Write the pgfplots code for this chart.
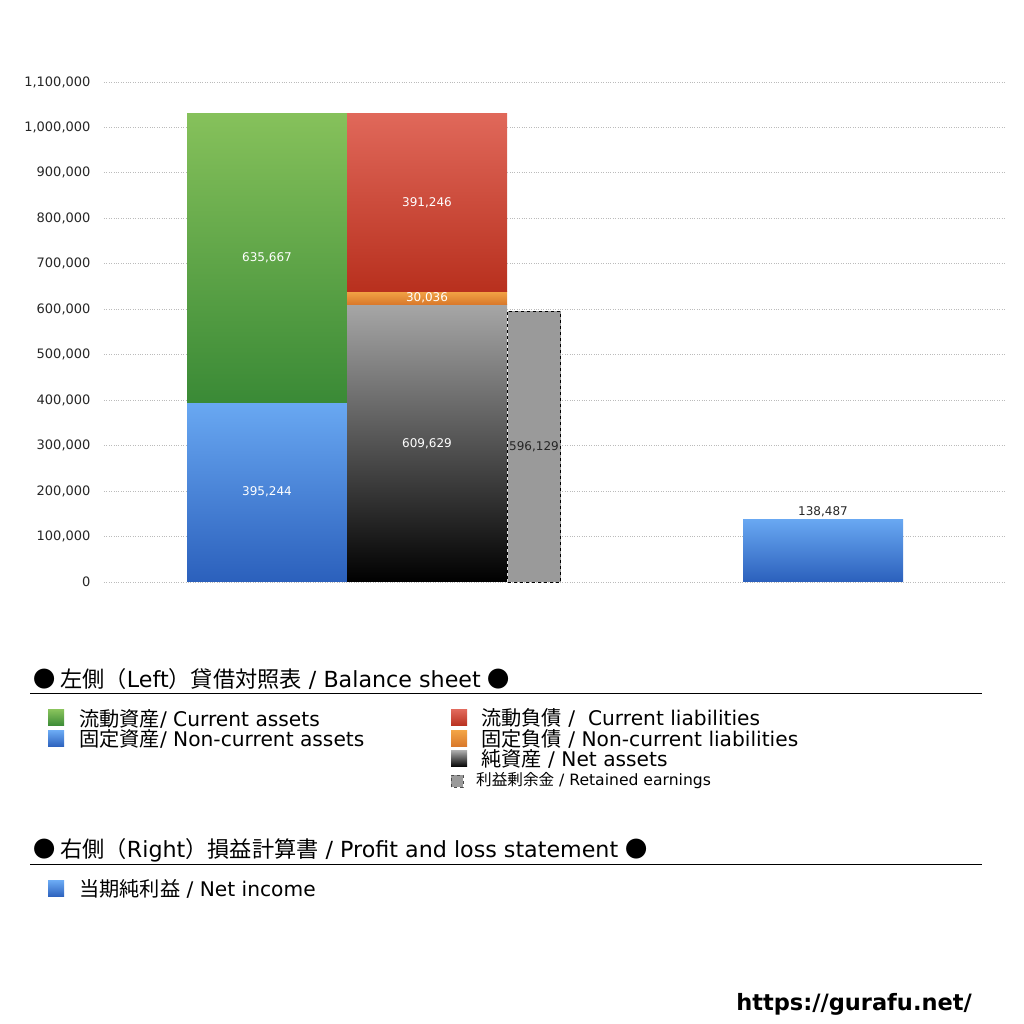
\documentclass[border=0pt]{standalone}
\usepackage{pgfplots}
\pgfplotsset{compat=1.18}
\usepackage{fontspec}
\setmainfont{DejaVu Sans}
\newfontfamily\jp{Noto Sans CJK JP}[Scale=1.0]

\definecolor{gTop}{HTML}{86C15B}
\definecolor{gBot}{HTML}{3A8A36}
\definecolor{bTop}{HTML}{69A8F2}
\definecolor{bBot}{HTML}{2B60BC}
\definecolor{rTop}{HTML}{E0685A}
\definecolor{rBot}{HTML}{B8301E}
\definecolor{oTop}{HTML}{F2A345}
\definecolor{oBot}{HTML}{D8772A}
\definecolor{kTop}{HTML}{A6A6A6}
\definecolor{kBot}{HTML}{000000}
\definecolor{reGray}{HTML}{9A9A9A}
\definecolor{gridGray}{HTML}{BBBBBB}

% one frame for all overlaid axes, in pixel units of the 1024x1024 image
\pgfplotsset{
  bsframe/.style={
    width=902pt, height=500pt, scale only axis,
    at={(104pt,442pt)}, anchor=south west,
    xmin=104, xmax=1006, ymin=0, ymax=1100000,
    clip=false,
  },
}

\begin{document}
\begin{tikzpicture}[x=1pt,y=1pt]
\path[use as bounding box] (0,0) rectangle (1024,1024);

% assets stack, with the grid and ticks
\begin{axis}[bsframe,
  axis line style={draw=none},
  ymajorgrids, grid style={gridGray, dotted, line width=0.8pt},
  ytick distance=100000,
  xtick=\empty,
  scaled y ticks=false,
  major tick length=0pt,
  yticklabel style={font=\fontsize{13}{15}\selectfont, text=black!85, xshift=-10pt},
  /pgf/number format/.cd, fixed, 1000 sep={,}, assume math mode=true,
  ]
  \addplot[ybar stacked, bar width=160, draw=none, top color=bTop, bottom color=bBot]
    coordinates {(267,395244)};
  \addplot[ybar stacked, bar width=160, draw=none, top color=gTop, bottom color=gBot]
    coordinates {(267,635667)};
\end{axis}

% liabilities and net assets stack
\begin{axis}[bsframe, hide axis]
  \addplot[ybar stacked, bar width=160, draw=none, top color=kTop, bottom color=kBot]
    coordinates {(427,609629)};
  \addplot[ybar stacked, bar width=160, draw=none, top color=oTop, bottom color=oBot]
    coordinates {(427,30036)};
  \addplot[ybar stacked, bar width=160, draw=none, top color=rTop, bottom color=rBot]
    coordinates {(427,391246)};
\end{axis}

% retained earnings, net income and the value labels
\begin{axis}[bsframe, hide axis]
  \addplot[ybar, bar shift=0pt, bar width=53, fill=reGray, draw=black, dashed, line width=0.7pt]
    coordinates {(534,596129)};
  \addplot[ybar, bar shift=0pt, bar width=160, draw=none, top color=bTop, bottom color=bBot]
    coordinates {(823,138487)};
  % white labels, centred in their segments
  \addplot[only marks, mark=none, nodes near coords, point meta=explicit symbolic,
    every node near coord/.style={anchor=center, text=white, font=\fontsize{12}{14}\selectfont}]
    table[meta=label] {
      x y label
      267 197622 395,244
      267 713078 635,667
      427 304815 609,629
      427 624647 30,036
      427 835288 391,246
    };
  % dark labels
  \addplot[only marks, mark=none, nodes near coords, point meta=explicit symbolic,
    every node near coord/.style={anchor=center, text=black!85, font=\fontsize{12}{14}\selectfont}]
    table[meta=label] {
      x y label
      534 298065 596,129
    };
  \addplot[only marks, mark=none, nodes near coords, point meta=explicit symbolic,
    every node near coord/.style={anchor=south, yshift=-1pt, text=black!85, font=\fontsize{12}{14}\selectfont}]
    table[meta=label] {
      x y label
      823 138487 138,487
    };
\end{axis}

% legend: balance sheet
\node[anchor=west, inner sep=0pt, font=\fontsize{22.2}{24}\selectfont] at (33,345)
  {{\jp ● 左側（}Left{\jp ）貸借対照表} / Balance sheet {\jp ●}};
\draw[line width=1pt] (30,330) -- (982,330);
\begin{scope}[every node/.style={anchor=west, inner sep=0pt, font=\fontsize{20.2}{22}\selectfont}]
  \shade[top color=gTop, bottom color=gBot] (48,298) rectangle (64,314);
  \node at (79,305) {{\jp 流動資産}/ Current assets};
  \shade[top color=bTop, bottom color=bBot] (48,277) rectangle (64,293);
  \node at (79,285) {{\jp 固定資産}/ Non-current assets};
  \shade[top color=rTop, bottom color=rBot] (451,298) rectangle (467,314);
  \node at (481,306) {{\jp 流動負債} /\ \ Current liabilities};
  \shade[top color=oTop, bottom color=oBot] (451,277) rectangle (467,293);
  \node at (481,285) {{\jp 固定負債} / Non-current liabilities};
  \shade[top color=kTop, bottom color=kBot] (451,257) rectangle (467,273);
  \node at (481,265) {{\jp 純資産} / Net assets};
  \filldraw[fill=reGray, draw=black!70, dashed, line width=0.6pt] (451,237) rectangle (463,249);
  \node[font=\fontsize{15.6}{17}\selectfont] at (476,243) {{\jp 利益剰余金} / Retained earnings};
\end{scope}

% legend: profit and loss statement
\node[anchor=west, inner sep=0pt, font=\fontsize{22.2}{24}\selectfont] at (33,174)
  {{\jp ● 右側（}Right{\jp ）損益計算書} / Profit and loss statement {\jp ●}};
\draw[line width=1pt] (30,159) -- (982,159);
\shade[top color=bTop, bottom color=bBot] (48,127) rectangle (64,143);
\node[anchor=west, inner sep=0pt, font=\fontsize{20.2}{22}\selectfont] at (79,135) {{\jp 当期純利益} / Net income};

\node[anchor=east, inner sep=0pt, font=\bfseries\fontsize{22.5}{24}\selectfont] at (972,20) {https://gurafu.net/};
\end{tikzpicture}
\end{document}
